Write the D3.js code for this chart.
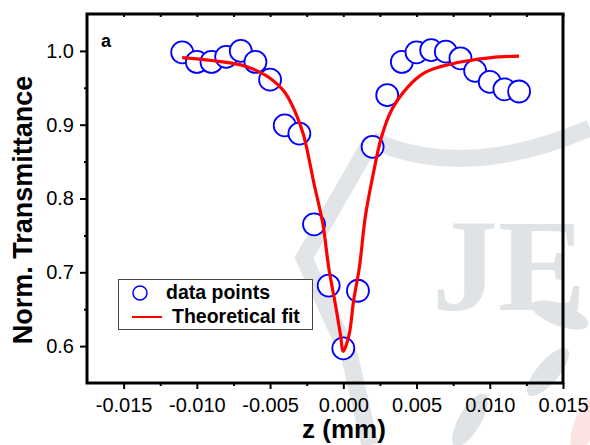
<!DOCTYPE html>
<html>
<head>
<meta charset="utf-8">
<script src="https://d3js.org/d3.v7.min.js"></script>
<style>
	body { margin: 0; background: #fff; }
	svg { display: block; font-family: "Liberation Sans", Arial, sans-serif; }
</style>
</head>
<body>
<script>

// z-scan data
const zData = [-0.011, -0.010, -0.009, -0.008, -0.007, -0.006, -0.005, -0.004, -0.003, -0.002, -0.001, 0.000,
	0.001, 0.002, 0.003, 0.004, 0.005, 0.006, 0.007, 0.008, 0.009, 0.010, 0.011, 0.012];
const tData = [0.998, 0.985, 0.985, 0.992, 1.000, 0.985, 0.961, 0.899, 0.888, 0.765, 0.682, 0.597,
	0.675, 0.870, 0.940, 0.985, 0.998, 1.001, 0.999, 0.990, 0.973, 0.958, 0.948, 0.945];

// theoretical fit curve, sampled off the figure
const zFit = [-0.011, -0.009, -0.007, -0.006, -0.005, -0.004, -0.0033, -0.0027, -0.0020, -0.0014, -0.0010, -0.0005, -0.0002, 0,
	0.0004, 0.0007, 0.0011, 0.0015, 0.0020, 0.0026, 0.0033, 0.0044, 0.0055, 0.0067, 0.0083, 0.0101, 0.012];
const tFit = [0.991, 0.987, 0.981, 0.974, 0.963, 0.944, 0.918, 0.885, 0.820, 0.766, 0.707, 0.652, 0.616, 0.593,
	0.616, 0.661, 0.707, 0.775, 0.829, 0.883, 0.920, 0.951, 0.970, 0.979, 0.986, 0.991, 0.993];

const xTicks = [-0.015, -0.010, -0.005, 0.000, 0.005, 0.010, 0.015];
const xMinor = [-0.0125, -0.0075, -0.0025, 0.0025, 0.0075, 0.0125];
const yTicks = [0.6, 0.7, 0.8, 0.9, 1.0];
const yMinor = [0.65, 0.75, 0.85, 0.95];

const W = 590, H = 445;
const L = 87, R = 563, T = 14, B = 383;

const x = d3.scaleLinear().domain([-0.0175, 0.015]).range([L, R]);
const y = d3.scaleLinear().domain([0.55, 1.05]).range([B, T]);

const svg = d3.select("body").append("svg")
	.attr("width", W)
	.attr("height", H);

// faint journal watermark behind the plot
const wm = svg.append("g").attr("class", "watermark");
wm.append("path")
	.attr("d", "M372,140 Q465,182 590,128 M372,140 L304,258 L350,358 L370,445")
	.attr("fill", "none")
	.attr("stroke", "#e1e5e8")
	.attr("stroke-width", 17);
wm.append("text")
	.attr("x", 432)
	.attr("y", 310)
	.attr("font-family", "Liberation Serif, DejaVu Serif, serif")
	.attr("font-weight", "bold")
	.attr("font-size", 132)
	.attr("fill", "#dfe3e6")
	.text("JE");
wm.selectAll("ellipse.leaf")
	.data([[548, 372, -50, "#dfe3e6"], [470, 420, -60, "#dfe3e6"], [585, 425, -70, "#fbe3e3"], [560, 315, 20, "#dfe3e6"]])
	.join("ellipse")
	.attr("class", "leaf")
	.attr("rx", 30)
	.attr("ry", 11)
	.attr("fill", d => d[3])
	.attr("transform", d => "translate(" + d[0] + "," + d[1] + ") rotate(" + d[2] + ")");

// ticks
const tickStyle = g => g.call(s => s.select(".domain").remove())
	.selectAll("line").attr("stroke", "#000").attr("stroke-width", 2);

svg.append("g")
	.attr("transform", "translate(0," + B + ")")
	.call(d3.axisBottom(x).tickValues(xTicks).tickSize(6).tickPadding(9)
		.tickFormat(d => d3.format(".3f")(d).replace("\u2212", "-")))
	.call(tickStyle)
	.selectAll("text")
		.attr("font-size", 20)
		.attr("fill", "#000")
		.style("font-family", "Liberation Sans, Arial, sans-serif");
svg.append("g")
	.attr("transform", "translate(0," + B + ")")
	.call(d3.axisBottom(x).tickValues(xMinor).tickSize(3).tickFormat(""))
	.call(tickStyle);

svg.append("g")
	.attr("transform", "translate(" + L + ",0)")
	.call(d3.axisLeft(y).tickValues(yTicks).tickSize(7).tickPadding(6)
		.tickFormat(d3.format(".1f")))
	.call(tickStyle)
	.selectAll("text")
		.attr("font-size", 20)
		.attr("fill", "#000")
		.style("font-family", "Liberation Sans, Arial, sans-serif");
svg.append("g")
	.attr("transform", "translate(" + L + ",0)")
	.call(d3.axisLeft(y).tickValues(yMinor).tickSize(3).tickFormat(""))
	.call(tickStyle);

// small inward ticks on top edge
svg.append("g")
	.attr("transform", "translate(0," + T + ")")
	.call(d3.axisBottom(x).tickValues(xTicks.concat(xMinor)).tickSize(3).tickFormat(""))
	.call(tickStyle);

// frame
svg.append("rect")
	.attr("x", L)
	.attr("y", T)
	.attr("width", R - L)
	.attr("height", B - T)
	.attr("fill", "none")
	.attr("stroke", "#000")
	.attr("stroke-width", 3);

// data points
svg.append("g")
	.selectAll("circle")
	.data(zData)
	.join("circle")
	.attr("cx", d => x(d))
	.attr("cy", (d, i) => y(tData[i]))
	.attr("r", 11)
	.attr("fill", "#fff")
	.attr("stroke", "#0000ff")
	.attr("stroke-width", 1.8);

// fit line
const line = d3.line()
	.x(d => x(d))
	.y((d, i) => y(tFit[i]))
	.curve(d3.curveCatmullRom.alpha(0.5));

svg.append("path")
	.datum(zFit)
	.attr("d", line)
	.attr("fill", "none")
	.attr("stroke", "#ff0000")
	.attr("stroke-width", 3.2);

// panel letter
svg.append("text")
	.attr("x", 101)
	.attr("y", 47)
	.attr("font-size", 18)
	.attr("font-weight", "bold")
	.text("a");

// legend
const lg = svg.append("g");
lg.append("rect")
	.attr("x", 118.5)
	.attr("y", 279.5)
	.attr("width", 194)
	.attr("height", 50)
	.attr("fill", "#fff")
	.attr("stroke", "#444")
	.attr("stroke-width", 1);
lg.append("circle")
	.attr("cx", 140)
	.attr("cy", 293)
	.attr("r", 7)
	.attr("fill", "none")
	.attr("stroke", "#0000ff")
	.attr("stroke-width", 1.5);
lg.append("line")
	.attr("x1", 132)
	.attr("x2", 162)
	.attr("y1", 317)
	.attr("y2", 317)
	.attr("stroke", "#ff0000")
	.attr("stroke-width", 2);
lg.append("text")
	.attr("x", 166)
	.attr("y", 299)
	.attr("font-size", 19.5)
	.attr("font-weight", "bold")
	.text("data points");
lg.append("text")
	.attr("x", 172)
	.attr("y", 323)
	.attr("font-size", 19.5)
	.attr("font-weight", "bold")
	.text("Theoretical fit");

// axis titles
svg.append("text")
	.attr("x", 344)
	.attr("y", 438)
	.attr("text-anchor", "middle")
	.attr("font-size", 26)
	.attr("font-weight", "bold")
	.text("z (mm)");

svg.append("text")
	.attr("transform", "translate(32,210) rotate(-90)")
	.attr("text-anchor", "middle")
	.attr("font-size", 27)
	.attr("font-weight", "bold")
	.text("Norm. Transmittance");

</script>
</body>
</html>
